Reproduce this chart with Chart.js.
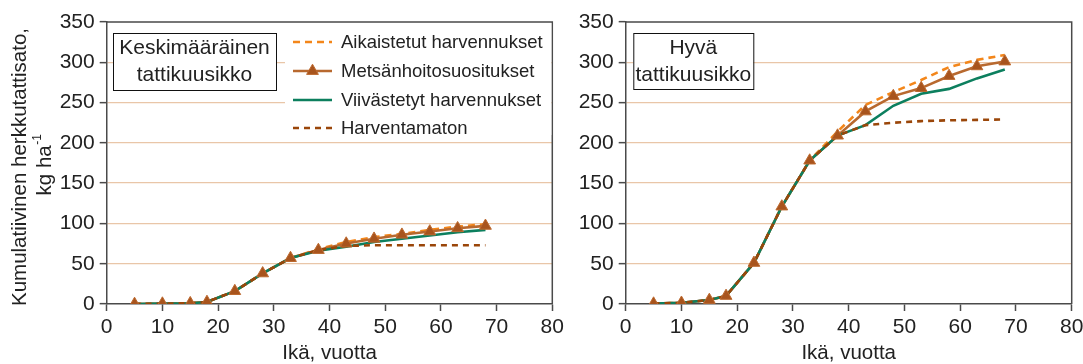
<!DOCTYPE html>
<html>
<head>
<meta charset="utf-8">
<script src="https://cdn.jsdelivr.net/npm/chart.js@4/dist/chart.umd.min.js"></script>
<style>
  html, body { margin: 0; padding: 0; background: #ffffff; }
  #wrap { position: relative; width: 1083px; height: 364px; overflow: hidden; }
  #wrap canvas { position: absolute; top: 0; }
</style>
</head>
<body>
<div id="wrap">
  <canvas id="leftPanel" width="570" height="364" style="left:0px"></canvas>
  <canvas id="rightPanel" width="513" height="364" style="left:570px"></canvas>
</div>
<script>
// ---- data ----
const ages = [5, 10, 15, 18, 23, 28, 33, 38, 43, 48, 53, 58, 63, 68];
const seriesNames = ['Aikaistetut harvennukset', 'Metsänhoitosuositukset', 'Viivästetyt harvennukset', 'Harventamaton'];
const panelTitles = [['Keskimääräinen', 'tattikuusikko'], ['Hyvä', 'tattikuusikko']];
const xTicks = [0, 10, 20, 30, 40, 50, 60, 70, 80];
const yTicks = [0, 50, 100, 150, 200, 250, 300, 350];
const xTitle = 'Ikä, vuotta';
const yTitle = ['Kumulatiivinen herkkutattisato,', 'kg ha', '-1'];

// Keskimääräinen tattikuusikko (kg/ha, cumulative)
const avgEarly       = [0, 0.5, 1, 2.5, 16, 38, 57, 68, 77, 83, 87, 92, 96, 99];
const avgRecommended = [0, 0.5, 1, 2.5, 16, 38, 57, 67, 75, 81, 86, 90, 94, 97];
const avgDelayed     = [0, 0.5, 1, 2.5, 16, 38, 57, 66, 71, 77, 81, 85, 89, 92];
const avgUnthinned   = [0, 0.5, 1, 2.5, 16, 38, 57, 67, 72, 73, 73, 73, 73, 73];

// Hyvä tattikuusikko (kg/ha, cumulative)
const goodEarly       = [0.5, 1.5, 5, 10, 51, 121, 178, 214, 247, 263, 278, 294, 303, 309];
const goodRecommended = [0.5, 1.5, 5, 10, 51, 121, 178, 209, 239, 258, 268, 283, 295, 301];
const goodDelayed     = [0.5, 1.5, 5, 10, 51, 121, 178, 209, 222, 246, 261, 267, 280, 291];
const goodUnthinned   = [0.5, 1.5, 5, 10, 51, 121, 178, 209, 222, 225, 227, 228, 228.5, 229];

// ---- styling ----
const FONT = "'Liberation Sans', Arial, sans-serif";
const TEXT = '#222222';
const AXIS = '#4a4a4a';
const GRID = '#e9c6a8';
const ORANGE = '#f3861a';
const BROWN = '#b8692f';
const MARKER_FILL = '#a8541d';
const MARKER_EDGE = '#bd6a30';
const GREEN = '#0c7f5e';
const DARK_BROWN = '#9a4609';

const toPoints = (vals) => ages.map((a, i) => ({ x: a, y: vals[i] }));

function makeDatasets(early, recommended, delayed, unthinned) {
  // lower "order" is painted on top
  return [
    { label: seriesNames[1], data: toPoints(recommended), showLine: false,
      pointStyle: 'triangle', pointRadius: 6.8, pointHoverRadius: 6.8,
      pointBackgroundColor: MARKER_FILL, pointBorderColor: MARKER_EDGE, pointBorderWidth: 1, order: 0 },
    { label: seriesNames[3], data: toPoints(unthinned), borderColor: DARK_BROWN,
      borderDash: [6, 5], borderWidth: 2.6, pointRadius: 0, order: 1 },
    { label: seriesNames[2], data: toPoints(delayed), borderColor: GREEN,
      borderWidth: 2.6, pointRadius: 0, order: 2 },
    { label: seriesNames[1], data: toPoints(recommended), borderColor: BROWN,
      borderWidth: 2.6, pointRadius: 0, order: 3 },
    { label: seriesNames[0], data: toPoints(early), borderColor: ORANGE,
      borderDash: [7, 5], borderWidth: 2.6, pointRadius: 0, order: 4 }
  ];
}

// legend entries in display order: [series name index, dataset index]
const legendRows = [[0, 4], [1, 3], [2, 2], [3, 1]];

function drawLegend(chart, ctx, opts) {
  const a = chart.chartArea;
  ctx.fillStyle = '#ffffff';
  ctx.fillRect(opts.x, a.top + 1, a.right - opts.x - 1, opts.h);
  ctx.font = '18.5px ' + FONT;
  ctx.textBaseline = 'middle';
  ctx.textAlign = 'left';
  legendRows.forEach(([nameIdx, dsIdx], i) => {
    const ds = chart.data.datasets[dsIdx];
    const y = opts.rowY[i];
    ctx.save();
    ctx.strokeStyle = ds.borderColor;
    ctx.lineWidth = ds.borderWidth;
    ctx.setLineDash(ds.borderDash || []);
    ctx.beginPath();
    ctx.moveTo(opts.lineX0, y);
    ctx.lineTo(opts.lineX1, y);
    ctx.stroke();
    ctx.restore();
    if (nameIdx === 1) {
      const m = chart.data.datasets[0];
      ctx.save();
      ctx.fillStyle = m.pointBackgroundColor;
      ctx.strokeStyle = m.pointBorderColor;
      Chart.helpers.drawPoint(ctx, { pointStyle: 'triangle', radius: m.pointRadius, borderWidth: 1, rotation: 0 },
        (opts.lineX0 + opts.lineX1) / 2, y);
      ctx.restore();
    }
    ctx.fillStyle = TEXT;
    ctx.fillText(seriesNames[nameIdx], opts.textX, y + 1);
  });
}

const panelDecor = {
  id: 'panelDecor',
  afterDraw(chart, args, opts) {
    const { ctx, chartArea: a } = chart;
    ctx.save();
    // top and right edges of the plot frame
    ctx.strokeStyle = AXIS;
    ctx.lineWidth = 1.5;
    ctx.beginPath();
    ctx.moveTo(a.left, a.top);
    ctx.lineTo(a.right, a.top);
    ctx.lineTo(a.right, a.bottom);
    ctx.stroke();

    // stand type caption box
    const b = opts.caption;
    ctx.fillStyle = '#ffffff';
    ctx.fillRect(b.x, b.y, b.w, b.h);
    ctx.strokeStyle = '#111111';
    ctx.lineWidth = 1;
    ctx.strokeRect(b.x + 0.5, b.y + 0.5, b.w, b.h);
    ctx.fillStyle = TEXT;
    ctx.font = '21px ' + FONT;
    ctx.textAlign = 'center';
    ctx.textBaseline = 'middle';
    b.lines.forEach((t, i) => ctx.fillText(t, b.x + b.w / 2, b.lineY[i]));

    if (opts.legend) drawLegend(chart, ctx, opts.legend);

    if (opts.yTitle) {
      const t = opts.yTitle;
      ctx.fillStyle = TEXT;
      ctx.textBaseline = 'middle';
      // first line
      ctx.save();
      ctx.font = '20.5px ' + FONT;
      ctx.textAlign = 'center';
      ctx.translate(t.x1, t.y1);
      ctx.rotate(-Math.PI / 2);
      ctx.fillText(yTitle[0], 0, 0);
      ctx.restore();
      // second line with superscript exponent
      ctx.save();
      ctx.translate(t.x2, t.y2);
      ctx.rotate(-Math.PI / 2);
      ctx.font = '20.5px ' + FONT;
      const wMain = ctx.measureText(yTitle[1]).width;
      ctx.font = '12px ' + FONT;
      const wSup = ctx.measureText(yTitle[2]).width;
      const start = -(wMain + wSup) / 2;
      ctx.textAlign = 'left';
      ctx.font = '20.5px ' + FONT;
      ctx.fillText(yTitle[1], start, 0);
      ctx.font = '12px ' + FONT;
      ctx.fillText(yTitle[2], start + wMain + 0.5, -7);
      ctx.restore();
    }
    ctx.restore();
  }
};

function makeChart(canvasId, datasets, layout, decor) {
  return new Chart(document.getElementById(canvasId), {
    type: 'line',
    data: { datasets },
    plugins: [panelDecor],
    options: {
      responsive: false,
      animation: false,
      events: [],
      layout: { padding: { left: 0, right: layout.padRight, top: 22, bottom: 0 } },
      elements: { line: { tension: 0 } },
      plugins: {
        legend: { display: false },
        tooltip: { enabled: false },
        panelDecor: decor
      },
      scales: {
        x: {
          type: 'linear', min: 0, max: 80,
          afterBuildTicks: (s) => { s.ticks = xTicks.map(v => ({ value: v })); },
          afterFit: (s) => { s.height = 60; s.paddingLeft = 0; s.paddingRight = 0; },
          grid: { drawOnChartArea: false, drawTicks: true, tickLength: 7, tickColor: AXIS, tickWidth: 1.5 },
          border: { display: true, color: AXIS, width: 1.5 },
          ticks: { color: TEXT, font: { family: FONT, size: 21 }, padding: 4, maxRotation: 0 },
          title: { display: true, text: xTitle, color: TEXT, font: { family: FONT, size: 20.5, lineHeight: 1 },
                   padding: { top: 0, bottom: 0 } }
        },
        y: {
          type: 'linear', min: 0, max: 350,
          afterBuildTicks: (s) => { s.ticks = yTicks.map(v => ({ value: v })); },
          afterFit: (s) => { s.width = layout.yWidth; s.paddingTop = 0; s.paddingBottom = 0; },
          grid: {
            color: (c) => (c.tick && (c.tick.value === 0 || c.tick.value === 350)) ? 'rgba(0,0,0,0)' : GRID,
            lineWidth: 1.3,
            drawTicks: true, tickLength: 7, tickColor: AXIS, tickWidth: 1.5
          },
          border: { display: true, color: AXIS, width: 1.5 },
          ticks: { color: TEXT, font: { family: FONT, size: 21 }, padding: 5 }
        }
      }
    }
  });
}

makeChart('leftPanel',
  makeDatasets(avgEarly, avgRecommended, avgDelayed, avgUnthinned),
  { yWidth: 106.7, padRight: 570 - 552.3 },
  {
    caption: { x: 113, y: 33, w: 163, h: 57, lines: panelTitles[0], lineY: [48, 75] },
    legend: { x: 285, h: 112, rowY: [42, 71, 100, 128], lineX0: 293, lineX1: 332, textX: 341 },
    yTitle: { x1: 20, y1: 167, x2: 45, y2: 165 }
  });

makeChart('rightPanel',
  makeDatasets(goodEarly, goodRecommended, goodDelayed, goodUnthinned),
  { yWidth: 55.7, padRight: 513 - 501.7 },
  {
    caption: { x: 633.3 - 570, y: 33, w: 120, h: 56, lines: panelTitles[1], lineY: [48, 75] }
  });
</script>
</body>
</html>
